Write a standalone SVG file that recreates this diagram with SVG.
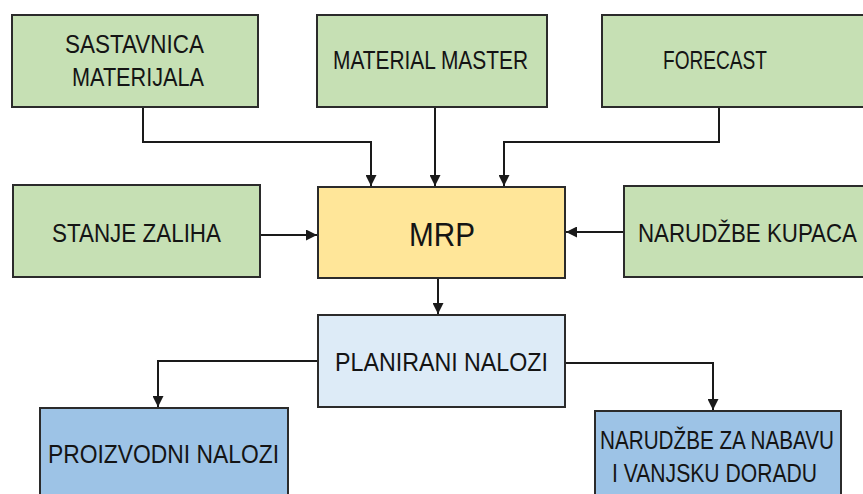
<svg xmlns="http://www.w3.org/2000/svg" width="863" height="494" viewBox="0 0 863 494">
<style>
.box{stroke:#2b2b2b;stroke-width:2}
.g{fill:#c6e0b4}
.y{fill:#ffe699}
.lb{fill:#ddebf7}
.b{fill:#9dc3e6}
text{font-family:"Liberation Sans Narrow","Liberation Sans",Arial,sans-serif;font-size:25px;fill:#141414}
.big{font-size:33px}
.c{fill:none;stroke:#1a1a1a;stroke-width:2}
</style>
<defs>
<marker id="ah" viewBox="0 0 10 10" refX="10" refY="5" markerWidth="5.5" markerHeight="5.5" orient="auto" markerUnits="strokeWidth">
<path d="M0,0 L10,5 L0,10 Z" fill="#1a1a1a"/>
</marker>
</defs>
<rect width="863" height="494" fill="#ffffff"/>
<g id="connectors">
<polyline class="c" points="143,107 143,142 371,142 371,186" marker-end="url(#ah)"/>
<polyline class="c" points="435,107 435,186" marker-end="url(#ah)"/>
<polyline class="c" points="719,107 719,142 504,142 504,186" marker-end="url(#ah)"/>
<polyline class="c" points="260,235 317,235" marker-end="url(#ah)"/>
<polyline class="c" points="624,232 566,232" marker-end="url(#ah)"/>
<polyline class="c" points="438,278 438,314" marker-end="url(#ah)"/>
<polyline class="c" points="318,361 158,361 158,407" marker-end="url(#ah)"/>
<polyline class="c" points="565,363 713,363 713,410" marker-end="url(#ah)"/>
</g>
<g id="sastavnica">
<rect class="box g" x="12" y="15" width="246" height="92"/>
<text x="65" y="53" textLength="139" lengthAdjust="spacingAndGlyphs">SASTAVNICA</text>
<text x="72" y="86" textLength="132" lengthAdjust="spacingAndGlyphs">MATERIJALA</text>
</g>
<g id="material-master">
<rect class="box g" x="317" y="15" width="230" height="92"/>
<text x="333" y="69" textLength="195" lengthAdjust="spacingAndGlyphs">MATERIAL MASTER</text>
</g>
<g id="forecast">
<rect class="box g" x="602" y="15" width="266" height="92"/>
<text x="663" y="69" textLength="104" lengthAdjust="spacingAndGlyphs">FORECAST</text>
</g>
<g id="stanje-zaliha">
<rect class="box g" x="13" y="185" width="247" height="92"/>
<text x="52" y="242" textLength="169" lengthAdjust="spacingAndGlyphs">STANJE ZALIHA</text>
</g>
<g id="mrp">
<rect class="box y" x="318" y="187" width="247" height="91"/>
<text class="big" x="409" y="246" textLength="66" lengthAdjust="spacingAndGlyphs">MRP</text>
</g>
<g id="narudzbe-kupaca">
<rect class="box g" x="624" y="186" width="244" height="91"/>
<text x="638" y="242" textLength="219" lengthAdjust="spacingAndGlyphs">NARUDŽBE KUPACA</text>
</g>
<g id="planirani-nalozi">
<rect class="box lb" x="318" y="315" width="247" height="92"/>
<text x="335" y="371" textLength="213" lengthAdjust="spacingAndGlyphs">PLANIRANI NALOZI</text>
</g>
<g id="proizvodni-nalozi">
<rect class="box b" x="40" y="408" width="248" height="92"/>
<text x="48" y="463" textLength="231" lengthAdjust="spacingAndGlyphs">PROIZVODNI NALOZI</text>
</g>
<g id="narudzbe-nabava">
<rect class="box b" x="595" y="411" width="246" height="92"/>
<text x="600" y="449" textLength="234" lengthAdjust="spacingAndGlyphs">NARUDŽBE ZA NABAVU</text>
<text x="612" y="482" textLength="205" lengthAdjust="spacingAndGlyphs">I VANJSKU DORADU</text>
</g>
</svg>
